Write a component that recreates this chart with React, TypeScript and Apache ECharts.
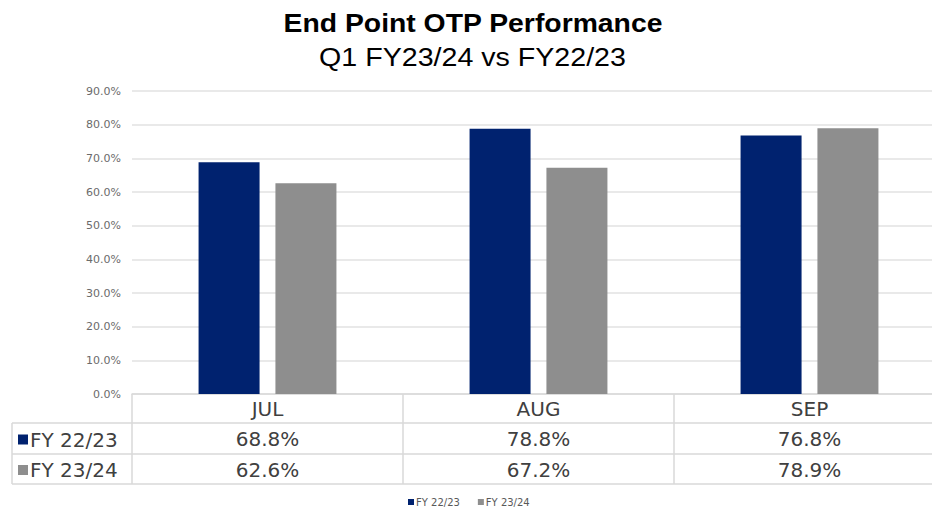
import React, { useEffect, useRef } from "react";
import * as echarts from "echarts";

const titleText = "End Point OTP Performance";
const subtitleText = "Q1 FY23/24 vs FY22/23";
const months = ["JUL", "AUG", "SEP"];
const seriesNames = ["FY 22/23", "FY 23/24"];
const fy2223 = [68.8, 78.8, 76.8];
const fy2324 = [62.6, 67.2, 78.9];
const yTicks = { min: 0, max: 90, interval: 10 };
const colors = ["#00226f", "#8e8e8e"];

const fmt = (v: number) => v.toFixed(1) + "%";

export default function App() {
  const ref = useRef<HTMLDivElement>(null);
  useEffect(() => {
    if (!ref.current) return;
    const chart = echarts.init(ref.current, undefined, { renderer: "svg" });
    const gridLeft = 132;
    const gridWidth = 813;
    const gridTop = 91;
    const gridBottomY = 394;
    const tableLeft = 12;
    const tableRight = gridLeft + gridWidth;
    const rowLines = [423, 454, 484];
    const rowCenters = [439.5, 470];
    const border = "#d9d9d9";
    const font = "DejaVu Sans";
    const textColor = "#404040";

    const graphic: any[] = [
      {
        type: "text",
        x: 473,
        y: 22.5,
        scaleX: 1.09,
        style: {
          text: titleText,
          fontFamily: "Liberation Sans",
          fontWeight: "bold",
          fontSize: 26,
          fill: "#000",
          align: "center",
          verticalAlign: "middle",
        },
      },
      {
        type: "text",
        x: 472.5,
        y: 56.5,
        scaleX: 1.1,
        style: {
          text: subtitleText,
          fontFamily: "Liberation Sans",
          fontSize: 26,
          fill: "#000",
          align: "center",
          verticalAlign: "middle",
        },
      },
    ];
    rowLines.forEach((y) => {
      graphic.push({
        type: "line",
        shape: { x1: tableLeft, y1: y, x2: tableRight, y2: y },
        style: { stroke: border, lineWidth: 1.5 },
        silent: true,
      });
    });
    graphic.push({
      type: "line",
      shape: { x1: tableLeft, y1: rowLines[0], x2: tableLeft, y2: rowLines[2] },
      style: { stroke: border, lineWidth: 1.5 },
      silent: true,
    });
    seriesNames.forEach((name, i) => {
      graphic.push({
        type: "rect",
        shape: { x: 18, y: rowCenters[i] - 5, width: 10, height: 10 },
        style: { fill: colors[i] },
        silent: true,
      });
      graphic.push({
        type: "text",
        x: 30,
        y: rowCenters[i],
        style: {
          text: name,
          fontFamily: font,
          fontSize: 20,
          fill: textColor,
          align: "left",
          verticalAlign: "middle",
        },
        silent: true,
      });
    });

    const valueAxis = (data: number[], offset: number) => ({
      type: "category",
      gridIndex: 0,
      position: "bottom",
      offset,
      data: data.map(fmt),
      axisLine: { show: false },
      axisTick: { show: false },
      axisLabel: {
        fontFamily: font,
        fontSize: 20,
        color: textColor,
        margin: 6,
        lineHeight: 18,
      },
    });

    chart.setOption({
      animation: false,
      backgroundColor: "#ffffff",
      grid: {
        left: gridLeft,
        top: gridTop,
        width: gridWidth,
        height: gridBottomY - gridTop,
        containLabel: false,
        outerBoundsMode: "none",
      },
      legend: {
        data: seriesNames,
        left: 408,
        top: 497,
        padding: 0,
        icon: "rect",
        itemWidth: 6,
        itemHeight: 6,
        itemGap: 18,
        textStyle: { fontFamily: font, fontSize: 10, color: "#595959", padding: [0, 0, 0, -3] },
      },
      xAxis: [
        {
          type: "category",
          gridIndex: 0,
          position: "bottom",
          data: months,
          axisLine: { show: true, lineStyle: { color: border, width: 1.5 } },
          axisTick: {
            show: true,
            interval: 0,
            length: 90,
            lineStyle: { color: border, width: 1.5 },
          },
          axisLabel: {
            fontFamily: font,
            fontSize: 20,
            color: textColor,
            margin: 6,
            lineHeight: 18,
          },
        },
        valueAxis(fy2223, 30),
        valueAxis(fy2324, 61),
      ],
      yAxis: {
        type: "value",
        min: yTicks.min,
        max: yTicks.max,
        interval: yTicks.interval,
        axisLine: { show: false },
        axisTick: { show: false },
        splitLine: { lineStyle: { color: "#e2e2e2", width: 1.5 } },
        axisLabel: {
          formatter: (v: number) => fmt(v),
          fontFamily: font,
          fontSize: 11,
          color: "#6b6b6b",
          margin: 11,
        },
      },
      series: [
        {
          name: seriesNames[0],
          type: "bar",
          xAxisIndex: 0,
          data: fy2223,
          barWidth: 61,
          barGap: "26%",
          itemStyle: { color: colors[0] },
        },
        {
          name: seriesNames[1],
          type: "bar",
          xAxisIndex: 0,
          data: fy2324,
          barWidth: 61,
          barGap: "26%",
          itemStyle: { color: colors[1] },
        },
      ],
      graphic,
    });
    return () => chart.dispose();
  }, []);
  return (
    <div
      ref={ref}
      style={{ position: "fixed", left: 0, top: 0, width: 932, height: 508 }}
    />
  );
}
